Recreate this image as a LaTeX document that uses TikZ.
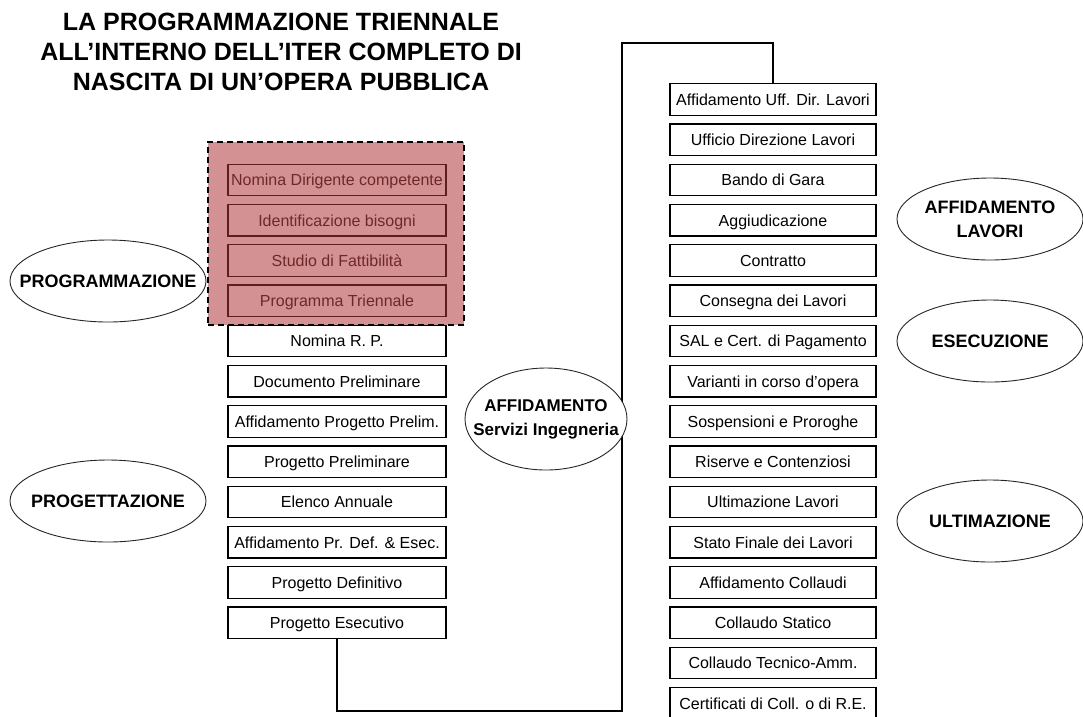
\documentclass[tikz,border=0pt]{standalone}
\usepackage{fontspec}
\setmainfont{Liberation Sans}
\usetikzlibrary{shapes.geometric}
\definecolor{shadepink}{RGB}{212,145,147}
\definecolor{maroonline}{RGB}{92,30,30}
\definecolor{maroontext}{RGB}{110,40,40}
\begin{document}
\begin{tikzpicture}[x=1pt,y=-1pt,
  box/.style={draw, line width=1.3pt, minimum height=31.5pt, inner sep=0pt, text height=11.5pt, text depth=0pt, font=\fontsize{16}{19}\selectfont},
  lbox/.style={box, minimum width=218pt},
  rbox/.style={box, minimum width=206pt},
  pbox/.style={lbox, draw=maroonline, text=maroontext},
  ell/.style={ellipse, draw=black!85, line width=0.9pt, fill=white, inner sep=0pt},
  elltext/.style={font=\bfseries\fontsize{18}{24}\selectfont, align=center},
  conn/.style={line width=1.4pt},
  titlef/.style={font=\bfseries\fontsize{25}{30}\selectfont, anchor=base, inner sep=0pt},
  progarea/.style={fill=shadepink, draw=black, line width=1.3pt, dash pattern=on 6pt off 4pt, inner sep=0pt}]
\useasboundingbox (0,0) rectangle (1083,716);

% title
\node[titlef] (t1) at (281,30) {LA PROGRAMMAZIONE TRIENNALE};
\node[titlef] (t2) at (281,60) {ALL’INTERNO DELL’ITER COMPLETO DI};
\node[titlef] (t3) at (281,90) {NASCITA DI UN’OPERA PUBBLICA};

% shaded programming area
\node[progarea, minimum width=256pt, minimum height=183pt] (area) at (336,233.5) {};

% left column
\node[pbox] (l1) at (337,180.00) {Nomina Dirigente competente};
\node[pbox] (l2) at (337,220.25) {Identificazione bisogni};
\node[pbox] (l3) at (337,260.50) {Studio di Fattibilità};
\node[pbox] (l4) at (337,300.75) {Programma Triennale};
\node[lbox] (l5) at (337,341.00) {Nomina R. P.};
\node[lbox] (l6) at (337,381.25) {Documento Preliminare};
\node[lbox] (l7) at (337,421.50) {Affidamento Progetto Prelim.};
\node[lbox] (l8) at (337,461.75) {Progetto Preliminare};
\node[lbox] (l9) at (337,502.00) {Elenco Annuale};
\node[lbox] (l10) at (337,542.25) {Affidamento Pr. Def. \& Esec.};
\node[lbox] (l11) at (337,582.50) {Progetto Definitivo};
\node[lbox] (l12) at (337,622.75) {Progetto Esecutivo};

% right column
\node[rbox] (r1) at (773,99.50) {Affidamento Uff. Dir. Lavori};
\node[rbox] (r2) at (773,139.75) {Ufficio Direzione Lavori};
\node[rbox] (r3) at (773,180.00) {Bando di Gara};
\node[rbox] (r4) at (773,220.25) {Aggiudicazione};
\node[rbox] (r5) at (773,260.50) {Contratto};
\node[rbox] (r6) at (773,300.75) {Consegna dei Lavori};
\node[rbox] (r7) at (773,341.00) {SAL e Cert. di Pagamento};
\node[rbox] (r8) at (773,381.25) {Varianti in corso d’opera};
\node[rbox] (r9) at (773,421.50) {Sospensioni e Proroghe};
\node[rbox] (r10) at (773,461.75) {Riserve e Contenziosi};
\node[rbox] (r11) at (773,502.00) {Ultimazione Lavori};
\node[rbox] (r12) at (773,542.25) {Stato Finale dei Lavori};
\node[rbox] (r13) at (773,582.50) {Affidamento Collaudi};
\node[rbox] (r14) at (773,622.75) {Collaudo Statico};
\node[rbox] (r15) at (773,663.00) {Collaudo Tecnico-Amm.};
\node[rbox] (r16) at (773,703.25) {Certificati di Coll. o di R.E.};

% connector
\coordinate (cb) at (622,711);
\coordinate (ct) at (622,43);
\draw[conn] (l12.south) |- (cb) -- (ct) -| (r1.north);

% phase ellipses
\node[ell, minimum width=196pt, minimum height=82pt] (e1) at (108,281) {};
\node[elltext] at (e1.center) {PROGRAMMAZIONE};
\node[ell, minimum width=196pt, minimum height=82pt] (e2) at (108,501) {};
\node[elltext] at (e2.center) {PROGETTAZIONE};
\node[ell, minimum width=162pt, minimum height=102pt] (e3) at (546,419) {};
\node[elltext, font=\bfseries\fontsize{17}{24}\selectfont] at (e3.center) {AFFIDAMENTO\\Servizi Ingegneria};
\node[ell, minimum width=186pt, minimum height=82pt] (e4) at (990,219) {};
\node[elltext] at (e4.center) {AFFIDAMENTO\\LAVORI};
\node[ell, minimum width=186pt, minimum height=82pt] (e5) at (990,341) {};
\node[elltext] at (e5.center) {ESECUZIONE};
\node[ell, minimum width=186pt, minimum height=82pt] (e6) at (990,521) {};
\node[elltext] at (e6.center) {ULTIMAZIONE};
\end{tikzpicture}
\end{document}
